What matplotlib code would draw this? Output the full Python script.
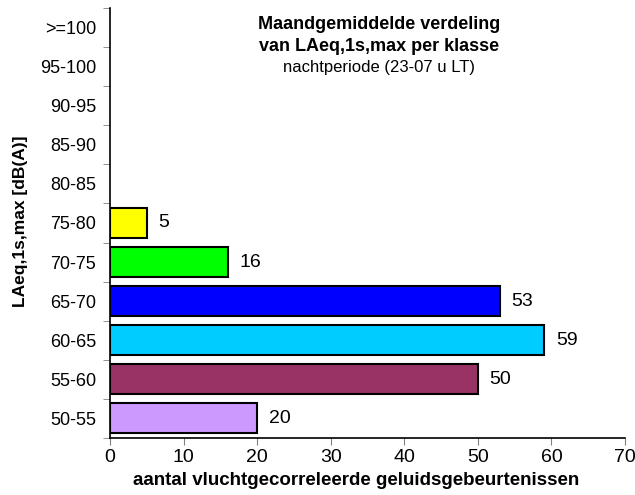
import matplotlib
matplotlib.use("Agg")
import matplotlib.pyplot as plt
import numpy as np

plt.rcParams['font.family'] = ['Liberation Sans', 'DejaVu Sans']

categories = ["50-55", "55-60", "60-65", "65-70", "70-75", "75-80",
              "80-85", "85-90", "90-95", "95-100", ">=100"]
values = [20, 50, 59, 53, 16, 5, 0, 0, 0, 0, 0]
colors = ["#CC99FF", "#993366", "#00CCFF", "#0000FF", "#00FF00", "#FFFF00",
          "#FFFFFF", "#FFFFFF", "#FFFFFF", "#FFFFFF", "#FFFFFF"]

fig = plt.figure(figsize=(6.35, 4.95), dpi=100)
ax = fig.add_axes([0.1732, 0.1152, 0.8111, 0.8686])

y = np.arange(len(categories))
for yi, v, c in zip(y, values, colors):
    if v > 0:
        ax.barh(yi, v, height=0.77, color=c, edgecolor="black", linewidth=1.5)
        ax.text(v + 1.6, yi, str(v), va="center", ha="left", fontsize=14)

ax.set_xlim(0, 70)
ax.set_ylim(-0.5, len(categories) - 0.5)
ax.set_xticks(np.arange(0, 71, 10))
ax.set_yticks(y)
ax.set_yticklabels(categories, fontsize=13)
ax.set_yticks(np.arange(-0.5, len(categories), 1), minor=True)
ax.tick_params(axis="y", which="major", length=0, pad=10)
ax.tick_params(axis="y", which="minor", length=5, color="#808080", direction="out")
ax.tick_params(axis="x", which="major", length=5, color="#808080", labelsize=14, pad=3)

for s in ["top", "right"]:
    ax.spines[s].set_visible(False)
ax.spines["left"].set_linewidth(1.2)
ax.spines["bottom"].set_linewidth(1.2)

ax.set_xlabel("aantal vluchtgecorreleerde geluidsgebeurtenissen",
              fontsize=13.5, fontweight="bold")
ax.xaxis.set_label_coords(0.478, -0.080)
ax.set_ylabel("LAeq,1s,max [dB(A)]", fontsize=12.5, fontweight="bold")
ax.yaxis.set_label_coords(-0.160, 0.505)

fig.text(0.597, 0.950, "Maandgemiddelde verdeling", ha="center", va="center",
         fontsize=13, fontweight="bold")
fig.text(0.597, 0.906, "van LAeq,1s,max per klasse", ha="center", va="center",
         fontsize=13, fontweight="bold")
fig.text(0.597, 0.864, "nachtperiode (23-07 u LT)", ha="center", va="center",
         fontsize=12)

fig.savefig("out.png", dpi=100)
